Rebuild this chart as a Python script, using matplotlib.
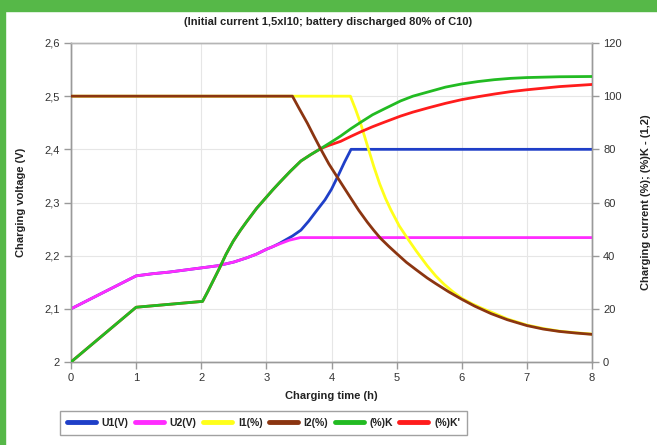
import matplotlib
matplotlib.use("Agg")
import matplotlib.pyplot as plt
from matplotlib.patches import Rectangle
from matplotlib.lines import Line2D

plt.rcParams['font.family'] = ['Liberation Sans', 'DejaVu Sans']

# ---- data ----
t_u1 = [0, 1, 1.25, 1.5, 1.75, 2, 2.25, 2.5, 2.7, 2.85, 3.0, 3.1, 3.2, 3.3, 3.4,
        3.53, 3.65, 3.78, 3.9, 4.0, 4.1, 4.2, 4.3, 8]
u1 = [2.100, 2.162, 2.166, 2.169, 2.173, 2.177, 2.181, 2.188, 2.196, 2.203, 2.212,
      2.217, 2.223, 2.230, 2.237, 2.248, 2.265, 2.286, 2.305, 2.325, 2.350, 2.376,
      2.400, 2.400]

t_u2 = [0, 1, 1.25, 1.5, 1.75, 2, 2.25, 2.5, 2.7, 2.85, 3.0, 3.1, 3.2, 3.35, 3.52, 8]
u2 = [2.100, 2.162, 2.166, 2.169, 2.173, 2.177, 2.181, 2.188, 2.196, 2.203, 2.212,
      2.217, 2.222, 2.229, 2.234, 2.234]

t_i1 = [0, 4.29, 4.37, 4.45, 4.55, 4.65, 4.74, 4.83, 4.91, 5.04, 5.17, 5.3, 5.47,
        5.6, 5.73, 5.87, 6.0, 6.15, 6.3, 6.5, 6.7, 7.0, 7.25, 7.5, 7.75, 8.0]
i1 = [100, 100, 95, 89.5, 81.5, 73.5, 67, 61.5, 57.3, 51.2, 46.4, 41.8, 36.2,
      32.4, 29.2, 26.3, 24, 22, 20.3, 18.3, 16.2, 13.9, 12.6, 11.6, 11.0, 10.5]

t_i2 = [0, 3.40, 3.5, 3.63, 3.73, 3.83, 3.96, 4.09, 4.2, 4.30, 4.42, 4.55, 4.65,
        4.75, 4.88, 5.0, 5.15, 5.3, 5.47, 5.6, 5.8, 6.0, 6.2, 6.45, 6.7, 7.0,
        7.25, 7.5, 7.75, 8.0]
i2 = [100, 100, 95.5, 89.8, 85, 80.3, 74.5, 69.5, 65.3, 61.5, 57, 52.6, 49.5,
      46.6, 43.5, 40.8, 37.5, 34.7, 31.6, 29.5, 26.4, 23.6, 21, 18.2, 15.9, 13.7,
      12.4, 11.5, 10.9, 10.4]

t_k = [0, 1, 2.02, 2.1, 2.19, 2.28, 2.38, 2.49, 2.6, 2.70, 2.85, 3.0, 3.1, 3.21,
       3.37, 3.53, 3.68, 3.83, 4.0, 4.14, 4.3, 4.45, 4.63, 4.81, 5.06, 5.25, 5.5,
       5.75, 6.0, 6.25, 6.5, 6.75, 7.0, 7.5, 8.0]
k = [0, 20.6, 22.8, 26.5, 30.9, 35.3, 40.5, 45.4, 49.5, 52.9, 57.8, 62, 64.8, 67.7,
     71.8, 75.6, 78.0, 80.2, 82.8, 85.0, 87.8, 90.2, 93.0, 95.2, 98.2, 100, 101.7,
     103.4, 104.6, 105.5, 106.2, 106.7, 107.0, 107.3, 107.4]

t_k2 = [0, 1, 2.02, 2.1, 2.19, 2.28, 2.38, 2.49, 2.6, 2.70, 2.85, 3.0, 3.1, 3.21,
        3.37, 3.53, 3.68, 3.83, 3.95, 4.14, 4.3, 4.45, 4.63, 4.81, 5.06, 5.25, 5.5,
        5.75, 6.0, 6.25, 6.5, 6.75, 7.0, 7.25, 7.5, 7.75, 8.0]
k2 = [0, 20.6, 22.8, 26.5, 30.9, 35.3, 40.5, 45.4, 49.5, 52.9, 57.8, 62, 64.8, 67.7,
      71.8, 75.6, 78.0, 80.2, 81.4, 83.0, 84.9, 86.6, 88.5, 90.2, 92.5, 94.0, 95.7,
      97.3, 98.7, 99.8, 100.8, 101.7, 102.4, 103.0, 103.6, 104.0, 104.4]

x_ticks = [0, 1, 2, 3, 4, 5, 6, 7, 8]
v_ticks = [2.0, 2.1, 2.2, 2.3, 2.4, 2.5, 2.6]
v_labels = ['2', '2,1', '2,2', '2,3', '2,4', '2,5', '2,6']
p_ticks = [0, 20, 40, 60, 80, 100, 120]

names = ['U1(V)', 'U2(V)', 'I1(%)', 'I2(%)', '(%)K', "(%)K'"]
colors = ['#1f3fc8', '#ff2cff', '#ffff1a', '#8b3511', '#22bb22', '#ff1c1c']

# ---- figure ----
fig = plt.figure(figsize=(6.57, 4.45), dpi=100)
fig.patch.set_facecolor('white')
ax = fig.add_axes([71/657, 1-362/445, (592-71)/657, (362-43)/445])
ax2 = ax.twinx()

green = '#56b848'
fig.patches.append(Rectangle((0, 1-11/445), 1, 11/445, transform=fig.transFigure,
                             color=green, zorder=0))
fig.patches.append(Rectangle((0, 0), 5/657, 1, transform=fig.transFigure,
                             color=green, zorder=0))

lw = 2.0
ax.plot(t_u1, u1, color=colors[0], lw=lw, zorder=3)
ax.plot(t_u2, u2, color=colors[1], lw=lw, zorder=4)
ax2.plot(t_i1, i1, color=colors[2], lw=lw, zorder=2)
ax2.plot(t_k2, k2, color=colors[5], lw=lw, zorder=3)
ax2.plot(t_k, k, color=colors[4], lw=lw, zorder=4)
ax2.plot(t_i2, i2, color=colors[3], lw=lw, zorder=5)

ax.set_xlim(0, 8)
ax.set_ylim(2.0, 2.6)
ax2.set_ylim(0, 120)
ax.set_xticks(x_ticks)
ax.set_yticks(v_ticks)
ax.set_yticklabels(v_labels)
ax2.set_yticks(p_ticks)

ax.grid(True, color='#e6e6e6', lw=0.8)
ax.set_axisbelow(True)

spine_c = '#9a9a9a'
for a in (ax, ax2):
    for s in a.spines.values():
        s.set_color(spine_c)
        s.set_linewidth(1.0)
    a.spines['top'].set_color('#b5b5b5')
    a.tick_params(colors=spine_c, labelcolor='#333333', labelsize=8,
                  length=5, width=1.0, direction='out', pad=3)

ax.set_xlabel('Charging time (h)', fontsize=8, fontweight='bold', color='#222222', labelpad=6)
ax.set_ylabel('Charging voltage (V)', fontsize=8, fontweight='bold', color='#222222', labelpad=13)
ax2.set_ylabel('Charging current (%); (%)K - (1,2)', fontsize=8, fontweight='bold',
               color='#222222', labelpad=14)

fig.text(0.5, 1-22/445, '(Initial current 1,5xI10; battery discharged 80% of C10)',
         ha='center', va='center', fontsize=8, fontweight='bold', color='#222222')

handles = [Line2D([], [], color=c, lw=3.5, solid_capstyle='round') for c in colors]
leg = fig.legend(handles, names, loc='center', bbox_to_anchor=(263.5/657, 1-423/445),
                 ncol=6, frameon=True, fancybox=False,
                 handlelength=2.8, handletextpad=0.55, columnspacing=0.6,
                 borderpad=0.7, edgecolor='#8a8a8a', prop={'weight': 'bold', 'size': 7.5})
leg.get_frame().set_linewidth(1.0)
for txt in leg.get_texts():
    txt.set_color('#222222')

fig.savefig('out.png', dpi=100, facecolor='white')
